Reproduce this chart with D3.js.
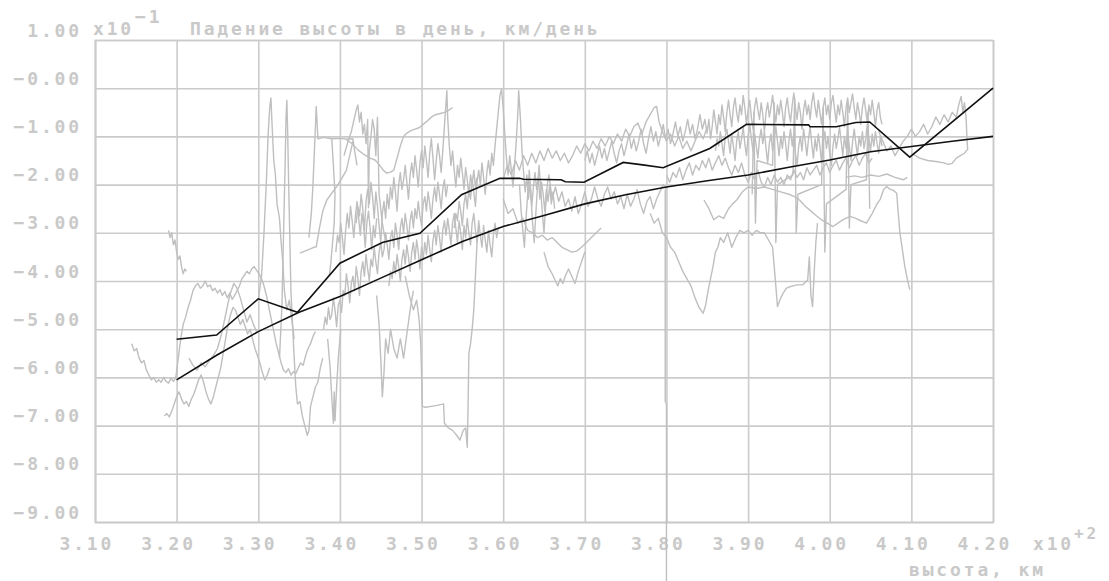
<!DOCTYPE html>
<html>
<head>
<meta charset="utf-8">
<script src="https://cdn.jsdelivr.net/npm/d3@7"></script>
<style>
  html, body { margin: 0; padding: 0; background: #ffffff; }
  svg { display: block; }
  text { font-family: "DejaVu Sans Mono", "Liberation Mono", monospace; font-size: 18px; font-weight: bold; fill: #c9c9c9; letter-spacing: 2.85px; }
</style>
</head>
<body>
<svg id="chart" width="1109" height="581"></svg>
<script>
// Axis ticks (altitude in units of 10^2 km, decay rate in units of 10^-1 km/day)
const xTicks = [3.10, 3.20, 3.30, 3.40, 3.50, 3.60, 3.70, 3.80, 3.90, 4.00, 4.10, 4.20];
const xTickLabels = ["3.10", "3.20", "3.30", "3.40", "3.50", "3.60", "3.70", "3.80", "3.90", "4.00", "4.10", "4.20"];
const yTicks = [1, 0, -1, -2, -3, -4, -5, -6, -7, -8, -9];
const yTickLabels = ["1.00", "−0.00", "−1.00", "−2.00", "−3.00", "−4.00", "−5.00", "−6.00", "−7.00", "−8.00", "−9.00"];

// Averaged decay rate per altitude bin
const meanAltitude = [3.20, 3.249, 3.30, 3.348, 3.40, 3.452, 3.498, 3.549, 3.596, 3.62, 3.625, 3.671, 3.676, 3.699, 3.747, 3.771, 3.796, 3.853, 3.898, 3.974, 3.976, 4.008, 4.032, 4.049, 4.098, 4.20];
const meanRate = [-5.21, -5.12, -4.37, -4.65, -3.63, -3.20, -3.01, -2.21, -1.87, -1.87, -1.89, -1.90, -1.94, -1.95, -1.54, -1.59, -1.65, -1.25, -0.75, -0.76, -0.80, -0.80, -0.71, -0.70, -1.43, 0.00];

// Smooth model curve
const modelAltitude = [3.20, 3.25, 3.30, 3.35, 3.40, 3.45, 3.50, 3.55, 3.60, 3.65, 3.70, 3.75, 3.80, 3.85, 3.90, 3.95, 4.00, 4.05, 4.10, 4.15, 4.20];
const modelRate = [-6.05, -5.53, -5.05, -4.65, -4.32, -3.94, -3.56, -3.18, -2.87, -2.64, -2.40, -2.21, -2.05, -1.92, -1.80, -1.64, -1.49, -1.32, -1.21, -1.10, -1.00];

// Individual observed tracks, flat lists of altitude, rate pairs
const track01 = [3.145,-5.30, 3.148,-5.45, 3.151,-5.40, 3.154,-5.60, 3.157,-5.70, 3.160,-5.65, 3.163,-5.85, 3.166,-5.95, 3.169,-6.05, 3.172,-6.00, 3.175,-6.10, 3.178,-6.05, 3.181,-6.10, 3.184,-6.00, 3.187,-6.08, 3.190,-6.12, 3.193,-6.02, 3.196,-6.08, 3.199,-6.00, 3.202,-5.60, 3.205,-5.20, 3.208,-4.90, 3.211,-4.75, 3.214,-4.55, 3.217,-4.40, 3.220,-4.20, 3.223,-4.10, 3.226,-4.05, 3.229,-4.15, 3.232,-4.10, 3.235,-4.00, 3.238,-4.12, 3.241,-4.08, 3.244,-4.20, 3.247,-4.15, 3.250,-4.25, 3.253,-4.18, 3.256,-4.30, 3.259,-4.22, 3.262,-4.35, 3.265,-4.25, 3.268,-4.38, 3.271,-4.30, 3.274,-4.20, 3.277,-4.10, 3.280,-3.95, 3.283,-3.88, 3.286,-3.80, 3.289,-3.85, 3.292,-3.75, 3.295,-3.70, 3.298,-3.78, 3.301,-3.85, 3.304,-3.95, 3.307,-4.10, 3.310,-4.30, 3.313,-4.55, 3.316,-4.80, 3.319,-5.05, 3.322,-5.30, 3.325,-5.50, 3.328,-5.70, 3.331,-5.85, 3.334,-5.90, 3.337,-5.82, 3.340,-5.95, 3.343,-5.88, 3.346,-5.92, 3.349,-5.80, 3.352,-5.70, 3.355,-5.75, 3.358,-5.55, 3.361,-5.40, 3.364,-5.30, 3.367,-5.15, 3.370,-5.05];
const track02 = [3.190,-2.95, 3.192,-3.10, 3.194,-3.00, 3.196,-3.25, 3.198,-3.15, 3.200,-3.40, 3.202,-3.55, 3.204,-3.48, 3.206,-3.70, 3.208,-3.85, 3.210,-3.75, 3.212,-3.80];
const track03 = [3.185,-6.80, 3.188,-6.75, 3.191,-6.82, 3.194,-6.70, 3.197,-6.55, 3.200,-6.40, 3.203,-6.30, 3.206,-6.45, 3.209,-6.55, 3.212,-6.50, 3.215,-6.60, 3.218,-6.45, 3.221,-6.35, 3.224,-6.20, 3.227,-6.05, 3.230,-5.95, 3.233,-6.10, 3.236,-6.30, 3.239,-6.45, 3.242,-6.55, 3.245,-6.40, 3.248,-6.20, 3.251,-6.00, 3.254,-5.80, 3.257,-5.50, 3.260,-5.20, 3.263,-4.90, 3.266,-4.70, 3.269,-4.55, 3.272,-4.60, 3.275,-4.75, 3.278,-4.90, 3.281,-4.80, 3.284,-4.95, 3.287,-5.10, 3.290,-5.00, 3.293,-5.20, 3.296,-5.40, 3.299,-5.55, 3.302,-5.70, 3.305,-5.90, 3.308,-6.05, 3.311,-5.95, 3.314,-5.80];
const track04 = [3.215,-5.60, 3.220,-5.75, 3.225,-5.85, 3.230,-5.70, 3.235,-5.78, 3.240,-5.65, 3.245,-5.55, 3.250,-5.40, 3.255,-5.10, 3.260,-4.70, 3.265,-4.30, 3.270,-4.05, 3.274,-4.15, 3.278,-4.35, 3.282,-4.60, 3.286,-4.85, 3.290,-4.70, 3.294,-4.90, 3.298,-5.05];
const track05 = [3.300,-4.40, 3.304,-3.90, 3.307,-3.00, 3.310,-1.90, 3.312,-1.00, 3.314,-0.40, 3.3155,-0.20, 3.317,-0.80, 3.319,-1.50, 3.321,-1.80, 3.323,-2.40, 3.326,-2.70, 3.328,-3.20, 3.330,-3.60, 3.332,-4.20, 3.335,-4.60, 3.338,-4.40, 3.341,-4.80, 3.344,-5.20];
const track06 = [3.326,-5.60, 3.329,-4.50, 3.331,-3.00, 3.333,-1.50, 3.334,-0.60, 3.335,-0.25, 3.336,-0.90, 3.337,-1.80, 3.338,-2.60, 3.339,-3.40, 3.340,-4.20, 3.342,-4.90, 3.344,-5.60, 3.346,-6.20, 3.348,-6.55, 3.351,-6.50, 3.354,-6.80, 3.357,-7.00, 3.360,-7.20, 3.362,-7.10, 3.364,-6.60, 3.367,-6.40, 3.370,-6.20, 3.373,-6.10, 3.376,-5.80, 3.379,-5.60];
const track07 = [3.385,-5.20, 3.388,-5.80, 3.390,-6.40, 3.392,-6.95, 3.393,-6.30, 3.394,-6.90, 3.396,-6.20, 3.398,-5.60, 3.401,-5.00];
const track08 = [3.362,-3.10, 3.365,-2.60, 3.367,-2.00, 3.369,-1.20, 3.371,-0.38, 3.372,-0.70, 3.373,-1.05, 3.380,-1.02, 3.390,-1.05, 3.400,-1.04, 3.410,-1.06, 3.416,-1.05, 3.418,-1.30, 3.421,-1.60];
const track09 = [3.405,-1.40, 3.410,-1.10, 3.414,-0.90, 3.418,-0.60, 3.420,-0.45, 3.422,-0.35, 3.424,-0.70, 3.426,-0.50, 3.428,-0.95, 3.430,-0.75, 3.432,-1.15, 3.434,-0.65, 3.435,-2.48, 3.436,-1.30, 3.438,-1.00, 3.440,-0.65, 3.442,-0.85, 3.444,-1.40, 3.446,-0.60, 3.448,-2.20, 3.450,-2.50, 3.452,-2.80, 3.455,-3.10];
const track10 = [3.408,-1.07, 3.415,-1.15, 3.422,-1.28, 3.430,-1.38, 3.437,-1.45, 3.443,-1.49, 3.448,-1.58, 3.453,-1.70, 3.457,-1.76, 3.462,-1.74, 3.466,-1.70, 3.470,-1.45, 3.474,-1.20, 3.478,-1.00, 3.482,-0.93, 3.487,-0.88, 3.492,-0.85, 3.497,-0.82, 3.502,-0.75, 3.507,-0.68, 3.512,-0.60, 3.517,-0.55, 3.522,-0.53, 3.528,-0.50, 3.533,-0.46, 3.538,-0.40];
const track11 = [3.351,-3.42, 3.357,-3.38, 3.363,-3.34, 3.368,-3.30, 3.371,-3.29, 3.375,-2.90, 3.379,-2.55, 3.384,-2.32, 3.390,-2.18, 3.396,-2.04, 3.402,-1.88, 3.408,-1.70, 3.412,-1.40, 3.416,-1.10];
const track12 = [3.380,-5.00, 3.382,-4.75, 3.384,-4.90, 3.386,-4.55, 3.388,-4.80, 3.390,-4.70, 3.392,-4.35, 3.394,-4.60, 3.396,-4.95, 3.398,-4.50, 3.400,-4.40, 3.402,-4.65, 3.404,-4.20, 3.406,-4.30, 3.408,-3.85, 3.410,-4.10, 3.412,-4.45, 3.414,-4.05, 3.416,-3.90, 3.418,-4.20, 3.420,-3.70, 3.422,-3.95, 3.424,-4.30, 3.426,-3.80, 3.428,-3.60, 3.430,-3.90, 3.432,-3.45, 3.434,-3.75, 3.436,-4.00, 3.438,-3.55, 3.440,-3.70, 3.442,-3.30, 3.444,-3.60, 3.446,-3.85, 3.448,-3.40, 3.450,-3.20, 3.452,-3.50, 3.454,-3.35, 3.456,-3.00, 3.458,-3.25, 3.460,-3.55, 3.462,-3.10, 3.464,-2.95, 3.466,-3.30, 3.468,-2.80, 3.470,-3.05, 3.472,-3.35, 3.474,-2.90, 3.476,-2.70, 3.478,-3.00, 3.480,-2.60, 3.482,-2.85, 3.484,-3.15, 3.486,-2.75, 3.488,-2.55, 3.490,-2.90, 3.492,-2.50, 3.494,-2.70, 3.496,-2.35, 3.498,-2.65, 3.500,-2.85, 3.502,-2.40, 3.504,-2.25, 3.506,-2.55, 3.508,-2.15, 3.510,-2.40, 3.512,-2.70, 3.514,-2.30, 3.516,-2.05, 3.518,-2.35, 3.520,-1.95, 3.522,-2.20, 3.524,-2.50, 3.526,-2.10, 3.528,-1.90, 3.530,-2.25, 3.532,-2.00];
const track13 = [3.420,-2.80, 3.422,-2.45, 3.424,-2.65, 3.426,-2.20, 3.428,-2.50, 3.430,-2.95, 3.432,-2.35, 3.434,-2.10, 3.436,-2.40, 3.438,-1.95, 3.440,-2.25, 3.442,-2.70, 3.444,-2.15, 3.446,-2.45, 3.448,-2.85, 3.450,-3.20, 3.452,-2.60, 3.454,-2.35, 3.456,-2.70, 3.458,-2.20, 3.460,-2.50, 3.462,-2.05, 3.464,-2.30, 3.466,-1.85, 3.468,-2.15, 3.470,-2.55, 3.472,-2.00, 3.474,-1.75, 3.476,-2.10, 3.478,-1.90, 3.480,-1.60, 3.482,-1.95, 3.484,-2.30, 3.486,-1.80, 3.488,-1.55, 3.490,-1.85, 3.492,-1.40, 3.494,-1.70, 3.496,-2.05, 3.498,-1.55, 3.500,-1.30, 3.502,-1.65, 3.504,-1.20, 3.506,-1.50, 3.508,-1.85, 3.510,-1.35, 3.512,-1.05, 3.514,-1.45, 3.516,-1.90, 3.518,-1.50, 3.520,-1.15, 3.522,-1.40, 3.524,-1.75, 3.526,-1.30, 3.528,-0.80, 3.530,-0.30, 3.531,-0.05, 3.532,-0.60, 3.534,-1.20, 3.536,-1.60, 3.538,-1.30, 3.540,-1.70, 3.542,-2.05, 3.544,-1.60, 3.546,-1.85, 3.548,-1.45, 3.550,-1.75, 3.552,-2.10, 3.554,-1.65, 3.556,-1.90, 3.558,-2.25, 3.560,-1.80, 3.562,-2.00, 3.564,-1.70, 3.566,-2.05, 3.568,-1.85];
const track14 = [3.540,-2.90, 3.542,-2.60, 3.544,-2.75, 3.546,-2.35, 3.548,-2.55, 3.550,-2.85, 3.552,-2.40, 3.554,-2.20, 3.556,-2.50, 3.558,-2.05, 3.560,-2.30, 3.562,-1.90, 3.564,-2.15, 3.566,-2.45, 3.568,-1.95, 3.570,-1.70, 3.572,-2.00, 3.574,-1.55, 3.576,-1.85, 3.578,-2.20, 3.580,-1.75, 3.582,-1.50, 3.584,-1.80, 3.586,-1.35, 3.588,-1.60, 3.590,-1.20, 3.592,-0.85, 3.594,-0.50, 3.596,-0.15, 3.598,-0.02, 3.600,-0.40, 3.602,-0.95, 3.604,-1.45, 3.606,-1.80, 3.608,-1.40, 3.610,-1.70, 3.612,-2.05, 3.614,-1.60, 3.616,-1.10, 3.618,-0.50, 3.619,-0.05, 3.621,-0.60, 3.623,-1.30, 3.625,-1.75, 3.627,-2.15, 3.629,-1.80, 3.631,-2.30, 3.633,-1.95, 3.635,-2.45, 3.637,-2.05, 3.639,-1.75, 3.641,-2.10, 3.643,-1.85, 3.645,-2.30, 3.647,-1.95, 3.649,-2.20, 3.651,-2.55, 3.653,-2.10, 3.655,-2.35, 3.657,-2.00, 3.659,-2.40, 3.661,-2.15, 3.663,-2.50];
const track15 = [3.460,-4.10, 3.462,-3.80, 3.464,-3.95, 3.466,-3.60, 3.468,-3.85, 3.470,-3.45, 3.472,-3.70, 3.474,-4.00, 3.476,-3.55, 3.478,-3.35, 3.480,-3.65, 3.482,-3.25, 3.484,-3.50, 3.486,-3.80, 3.488,-3.40, 3.490,-3.20, 3.492,-3.55, 3.494,-3.15, 3.496,-3.40, 3.498,-3.75, 3.500,-3.30, 3.502,-3.55, 3.504,-3.20, 3.506,-3.45, 3.508,-3.05, 3.510,-3.35, 3.512,-3.60, 3.514,-3.15, 3.516,-2.95, 3.518,-3.25, 3.520,-2.85, 3.522,-3.10, 3.524,-3.40, 3.526,-2.95, 3.528,-2.75, 3.530,-3.05, 3.532,-2.70, 3.534,-2.95, 3.536,-3.25, 3.538,-2.80, 3.540,-2.60, 3.542,-2.90, 3.544,-3.20, 3.546,-2.75, 3.548,-3.00, 3.550,-3.35, 3.552,-2.85, 3.554,-3.10, 3.556,-2.70, 3.558,-3.00, 3.560,-3.25, 3.562,-2.80, 3.564,-2.60, 3.566,-2.95, 3.568,-3.20, 3.570,-2.75, 3.572,-3.05, 3.574,-3.30, 3.576,-2.85, 3.578,-3.15, 3.580,-3.40, 3.582,-2.95, 3.584,-3.25, 3.586,-3.50, 3.588,-3.05, 3.590,-2.80, 3.592,-3.10, 3.594,-2.90];
const track16 = [3.480,-3.90, 3.485,-4.30, 3.490,-4.60, 3.494,-4.40, 3.497,-4.80, 3.499,-5.30, 3.500,-5.90, 3.501,-6.60, 3.505,-6.62, 3.512,-6.60, 3.519,-6.58, 3.527,-6.55, 3.528,-6.95, 3.533,-7.05, 3.538,-7.10, 3.543,-7.20, 3.547,-7.30, 3.551,-7.10, 3.554,-7.05, 3.556,-7.45, 3.557,-6.60, 3.558,-5.50, 3.560,-5.30, 3.562,-5.00, 3.564,-4.60, 3.566,-3.90, 3.568,-3.20, 3.570,-2.90];
const track17 = [3.445,-4.30, 3.448,-4.90, 3.450,-5.60, 3.452,-6.40, 3.454,-5.90, 3.456,-5.20, 3.459,-5.50, 3.462,-5.00, 3.466,-5.40, 3.470,-5.60, 3.474,-5.20, 3.478,-5.60, 3.482,-5.10, 3.486,-4.60, 3.490,-4.20];
const track18 = [3.600,-1.90, 3.605,-1.60, 3.610,-1.80, 3.615,-1.50, 3.620,-1.70, 3.625,-1.40, 3.630,-1.60, 3.635,-1.35, 3.640,-1.55, 3.645,-1.30, 3.650,-1.50, 3.655,-1.25, 3.660,-1.45, 3.665,-1.30, 3.670,-1.50, 3.675,-1.35, 3.680,-1.55, 3.685,-1.40, 3.690,-1.20, 3.695,-1.35, 3.700,-1.15, 3.705,-1.30, 3.710,-1.10, 3.715,-1.25, 3.720,-1.05, 3.725,-1.20, 3.730,-1.00, 3.735,-1.15, 3.740,-0.95, 3.745,-1.10, 3.750,-0.85, 3.755,-1.00, 3.760,-0.80, 3.765,-0.72, 3.770,-0.95, 3.775,-0.70, 3.780,-0.55, 3.785,-0.40, 3.788,-0.38, 3.791,-0.70, 3.795,-0.90, 3.800,-1.10, 3.805,-0.95, 3.810,-1.20, 3.815,-1.00, 3.820,-1.25, 3.825,-1.10, 3.830,-1.30, 3.835,-1.10, 3.840,-0.90, 3.845,-1.05, 3.850,-0.80];
const track19 = [3.600,-2.30, 3.606,-2.60, 3.612,-2.50, 3.618,-2.80, 3.624,-2.70, 3.630,-2.95, 3.636,-3.00, 3.642,-3.10, 3.648,-3.05, 3.654,-3.15, 3.660,-3.10, 3.666,-3.20, 3.672,-3.30, 3.678,-3.35, 3.684,-3.40, 3.690,-3.38, 3.696,-3.30, 3.702,-3.20, 3.708,-3.10, 3.714,-3.00, 3.720,-2.90];
const track20 = [3.650,-3.40, 3.655,-3.70, 3.660,-3.85, 3.664,-4.00, 3.667,-4.10, 3.670,-3.95, 3.673,-4.05, 3.676,-3.90, 3.680,-3.75, 3.684,-3.90, 3.688,-4.05, 3.692,-3.80, 3.696,-3.60, 3.700,-3.40];
const track21 = [3.620,-2.00, 3.622,-2.55, 3.624,-2.95, 3.626,-3.30, 3.628,-2.70, 3.630,-2.20, 3.632,-1.70, 3.634,-2.25, 3.636,-2.80, 3.638,-3.20, 3.640,-2.60, 3.642,-2.05, 3.644,-1.60, 3.646,-2.10, 3.648,-2.60, 3.650,-3.00, 3.652,-2.45, 3.654,-2.00, 3.656,-1.80, 3.660,-2.30, 3.664,-2.05, 3.668,-2.35, 3.672,-2.15, 3.676,-2.45, 3.680,-2.30, 3.684,-2.55, 3.688,-2.25, 3.692,-2.60, 3.696,-2.40, 3.700,-2.15, 3.704,-2.45, 3.708,-2.30, 3.712,-2.05, 3.716,-2.30, 3.720,-2.45, 3.724,-2.20, 3.728,-2.05, 3.732,-2.30, 3.736,-2.15, 3.740,-2.40, 3.744,-2.25, 3.748,-2.50, 3.752,-2.20, 3.756,-2.45, 3.760,-2.30, 3.764,-2.10, 3.768,-2.40, 3.772,-2.60, 3.776,-2.35, 3.780,-2.25, 3.784,-2.50, 3.788,-2.30, 3.792,-2.15, 3.796,-2.00, 3.800,-2.10];
const track22 = [3.7985,-2.10, 3.7985,-6.50, 3.800,-6.55, 3.800,-10.25];
const track23 = [3.780,-2.60, 3.785,-2.80, 3.790,-2.70, 3.795,-3.00, 3.800,-3.10, 3.805,-3.30, 3.810,-3.40, 3.815,-3.60, 3.820,-3.80, 3.825,-3.95, 3.830,-4.10, 3.835,-4.35, 3.840,-4.55, 3.845,-4.67, 3.848,-4.50, 3.851,-4.20, 3.854,-3.95, 3.857,-3.70, 3.860,-3.40, 3.863,-3.30, 3.866,-3.10, 3.870,-3.20, 3.875,-3.00, 3.880,-3.30, 3.885,-3.10, 3.890,-2.95, 3.895,-3.00, 3.900,-2.95, 3.905,-3.05, 3.910,-2.95, 3.915,-3.00, 3.920,-3.00, 3.925,-3.15, 3.930,-3.30, 3.933,-3.90, 3.936,-4.53, 3.940,-4.35, 3.943,-4.25, 3.947,-4.15, 3.951,-4.12, 3.955,-4.10, 3.960,-4.08, 3.967,-4.08, 3.973,-3.98, 3.975,-3.50, 3.977,-4.30, 3.979,-4.53, 3.981,-3.80, 3.983,-3.20, 3.985,-2.80];
const track24 = [3.846,-2.32, 3.852,-2.50, 3.858,-2.73, 3.864,-2.65, 3.870,-2.70, 3.876,-2.50, 3.881,-2.40, 3.886,-2.32, 3.893,-2.15, 3.900,-2.05, 3.910,-2.08, 3.920,-2.05, 3.930,-2.10, 3.940,-2.15, 3.950,-2.20, 3.957,-2.25, 3.963,-2.32, 3.970,-2.45, 3.977,-2.55, 3.984,-2.65, 3.990,-2.73, 3.997,-2.80, 4.004,-2.87, 4.010,-2.80, 4.017,-2.72, 4.025,-2.66, 4.032,-2.70, 4.038,-2.75, 4.045,-2.80, 4.052,-2.60, 4.058,-2.40, 4.062,-2.30, 4.066,-2.10, 4.070,-2.04, 4.074,-2.10, 4.078,-2.12, 4.082,-2.18, 4.084,-2.60, 4.086,-3.00, 4.089,-3.35, 4.092,-3.70, 4.095,-3.95, 4.098,-4.18];
const track25 = [4.020,-1.85, 4.030,-1.82, 4.040,-1.85, 4.050,-1.80, 4.060,-1.83, 4.070,-1.78, 4.080,-1.85, 4.090,-1.90, 4.095,-1.85];
const track26 = [3.800,-1.80, 3.804,-1.95, 3.808,-1.75, 3.812,-1.85, 3.816,-1.65, 3.820,-1.90, 3.824,-1.70, 3.828,-1.55, 3.832,-1.80, 3.836,-1.60, 3.840,-1.70, 3.844,-1.50, 3.848,-1.65, 3.852,-1.45, 3.856,-1.70, 3.860,-1.55, 3.864,-1.40, 3.868,-1.60, 3.872,-1.45, 3.876,-1.65, 3.880,-1.80, 3.884,-1.60, 3.888,-1.75, 3.892,-1.55, 3.896,-1.80, 3.900,-1.95, 3.904,-1.75, 3.908,-1.90, 3.912,-1.70, 3.916,-1.95, 3.920,-2.05, 3.924,-1.85, 3.928,-2.00, 3.932,-1.80, 3.936,-1.95, 3.940,-1.85, 3.944,-2.00, 3.948,-1.80, 3.952,-1.90, 3.956,-1.70, 3.960,-1.85, 3.964,-1.75, 3.968,-1.90, 3.972,-1.65, 3.976,-1.80, 3.980,-1.70, 3.984,-1.60, 3.988,-1.80, 3.992,-1.65, 3.996,-1.55, 4.000,-1.75, 4.004,-1.60, 4.008,-1.50, 4.012,-1.70, 4.016,-1.55, 4.020,-1.45, 4.024,-1.65, 4.028,-1.50, 4.032,-1.40, 4.036,-1.60, 4.040,-1.45, 4.044,-1.35, 4.048,-1.55, 4.052,-1.45];
const track27 = [3.850,-0.90, 3.852,-0.65, 3.854,-1.05, 3.856,-0.80, 3.858,-0.45, 3.860,-0.70, 3.862,-0.95, 3.864,-0.55, 3.866,-0.75, 3.868,-0.35, 3.870,-0.60, 3.872,-0.90, 3.874,-0.50, 3.876,-0.25, 3.878,-0.55, 3.880,-0.80, 3.882,-0.40, 3.884,-0.20, 3.886,-0.50, 3.888,-0.70, 3.890,-0.35, 3.892,-0.55, 3.894,-0.15, 3.896,-0.40, 3.898,-0.75, 3.900,-0.45, 3.902,-0.25, 3.904,-0.60, 3.906,-0.85, 3.908,-0.40, 3.910,-0.20, 3.912,-0.45, 3.914,-0.65, 3.916,-0.30, 3.918,-0.55, 3.920,-0.90, 3.922,-0.50, 3.924,-0.30, 3.926,-0.60, 3.928,-0.40, 3.930,-0.15, 3.932,-0.45, 3.934,-0.70, 3.936,-0.35, 3.938,-0.55, 3.940,-0.25, 3.942,-0.50, 3.944,-0.80, 3.946,-0.40, 3.948,-0.20, 3.950,-0.50, 3.952,-0.70, 3.954,-0.35, 3.956,-0.10, 3.958,-0.40, 3.960,-0.65, 3.962,-0.30, 3.964,-0.50, 3.966,-0.85, 3.968,-0.45, 3.970,-0.25, 3.972,-0.55, 3.974,-0.35, 3.976,-0.65, 3.978,-0.30, 3.980,-0.10, 3.982,-0.40, 3.984,-0.60, 3.986,-0.25, 3.988,-0.50, 3.990,-0.75, 3.992,-0.40, 3.994,-0.20, 3.996,-0.55, 3.998,-0.35, 4.000,-0.65, 4.002,-0.30, 4.004,-0.15, 4.006,-0.45, 4.008,-0.70, 4.010,-0.35, 4.012,-0.55, 4.014,-0.25, 4.016,-0.50, 4.018,-0.80, 4.020,-0.40, 4.022,-0.20, 4.024,-0.50, 4.026,-0.30, 4.028,-0.12, 4.030,-0.40, 4.032,-0.65, 4.034,-0.30, 4.036,-0.50, 4.038,-0.75, 4.040,-0.40, 4.042,-0.20, 4.044,-0.45, 4.046,-0.70, 4.048,-0.35, 4.050,-0.55, 4.052,-0.25, 4.054,-0.50, 4.056,-0.80, 4.058,-0.45, 4.060,-0.30, 4.062,-0.60, 4.064,-0.75];
const track28 = [3.860,-1.30, 3.862,-1.05, 3.864,-1.20, 3.866,-0.90, 3.868,-1.15, 3.870,-1.40, 3.872,-1.00, 3.874,-0.85, 3.876,-1.10, 3.878,-1.35, 3.880,-0.95, 3.882,-1.20, 3.884,-1.50, 3.886,-1.10, 3.888,-0.90, 3.890,-1.25, 3.892,-1.05, 3.894,-0.80, 3.896,-1.15, 3.898,-1.40, 3.900,-1.00, 3.902,-0.75, 3.904,-1.05, 3.906,-1.30, 3.908,-0.95, 3.910,-1.20, 3.912,-1.45, 3.914,-1.05, 3.916,-0.85, 3.918,-1.15, 3.920,-0.90, 3.922,-1.25, 3.924,-1.55, 3.926,-1.15, 3.928,-0.95, 3.930,-1.30, 3.932,-1.05, 3.934,-0.80, 3.936,-1.10, 3.938,-1.40, 3.940,-1.00, 3.942,-1.25, 3.944,-0.90, 3.946,-1.15, 3.948,-1.50, 3.950,-1.10, 3.952,-0.85, 3.954,-1.20, 3.956,-0.95, 3.958,-1.35, 3.960,-1.60, 3.962,-1.20, 3.964,-1.00, 3.966,-1.30, 3.968,-0.85, 3.970,-1.10, 3.972,-1.40, 3.974,-1.05, 3.976,-0.80, 3.978,-1.15, 3.980,-1.45, 3.982,-1.05, 3.984,-1.30, 3.986,-0.95, 3.988,-1.20, 3.990,-1.55, 3.992,-1.15, 3.994,-0.90, 3.996,-1.25, 3.998,-1.00, 4.000,-1.35, 4.002,-1.60, 4.004,-1.20, 4.006,-0.95, 4.008,-1.25, 4.010,-1.05, 4.012,-0.80, 4.014,-1.10, 4.016,-1.40, 4.018,-1.00, 4.020,-1.25, 4.022,-0.90, 4.024,-1.20, 4.026,-1.50, 4.028,-1.10, 4.030,-0.85, 4.032,-1.15, 4.034,-1.40, 4.036,-1.00, 4.038,-1.20, 4.040,-0.90, 4.042,-1.25, 4.044,-1.05, 4.046,-0.75, 4.048,-1.05, 4.050,-1.30, 4.052,-0.95, 4.054,-1.20, 4.056,-0.90, 4.058,-1.15, 4.060,-1.35, 4.062,-1.00, 4.064,-1.20];
const track29 = [3.905,-2.20, 3.907,-0.50, 3.909,-2.80, 3.911,-1.50, 3.930,-1.60, 3.932,-0.30, 3.934,-3.20, 3.936,-2.00, 3.955,-1.80, 3.957,-0.20, 3.959,-3.00, 3.961,-2.20, 3.990,-2.00, 3.992,-0.40, 3.994,-3.40, 3.996,-2.40, 4.020,-2.10, 4.022,-0.30, 4.024,-2.90, 4.026,-2.00, 4.045,-1.90, 4.047,-0.50, 4.049,-2.50];
const track30 = [4.060,-0.90, 4.065,-1.10, 4.070,-1.30, 4.075,-1.20, 4.080,-1.40, 4.085,-1.25, 4.090,-1.10, 4.095,-1.00, 4.100,-0.85, 4.105,-1.00, 4.110,-0.90, 4.115,-0.75, 4.120,-0.95, 4.125,-0.80, 4.130,-0.60, 4.135,-0.75, 4.140,-0.55, 4.145,-0.70, 4.150,-0.50, 4.155,-0.60, 4.158,-0.35, 4.161,-0.17, 4.163,-0.50, 4.165,-0.30, 4.167,-0.60, 4.168,-1.00, 4.169,-1.29];
const track31 = [4.100,-1.35, 4.110,-1.45, 4.120,-1.50, 4.130,-1.52, 4.140,-1.55, 4.145,-1.58, 4.150,-1.56, 4.155,-1.45, 4.160,-1.40, 4.165,-1.35, 4.168,-1.28];
const track32 = [3.390,-1.05, 3.392,-1.60, 3.394,-2.20, 3.393,-2.80, 3.391,-3.20, 3.389,-3.60, 3.387,-3.90];
const track33 = [3.395,-3.40, 3.397,-3.05, 3.399,-3.20, 3.401,-2.80, 3.403,-3.10, 3.405,-3.45, 3.407,-2.95, 3.409,-2.60, 3.411,-2.90, 3.413,-2.45, 3.415,-2.75, 3.417,-3.10, 3.419,-2.65, 3.421,-2.35, 3.423,-2.70, 3.425,-3.05, 3.427,-2.60, 3.429,-2.85, 3.431,-3.30, 3.433,-2.80, 3.435,-2.55, 3.437,-2.90, 3.439,-3.35, 3.441,-2.85, 3.443,-3.10, 3.445,-2.70];
const track34 = [3.700,-1.50, 3.703,-1.30, 3.706,-1.55, 3.709,-1.35, 3.712,-1.60, 3.715,-1.40, 3.718,-1.20, 3.721,-1.45, 3.724,-1.25, 3.727,-1.50, 3.730,-1.30, 3.733,-1.10, 3.736,-1.35, 3.739,-1.55, 3.742,-1.30, 3.745,-1.15, 3.748,-1.40, 3.751,-1.20, 3.754,-0.95, 3.757,-1.25, 3.760,-1.05, 3.763,-1.30, 3.766,-1.10, 3.769,-0.85, 3.772,-1.15, 3.775,-1.35, 3.778,-1.05, 3.781,-0.80, 3.784,-1.10, 3.787,-0.90, 3.790,-1.20, 3.793,-1.00, 3.796,-0.75, 3.799,-1.05, 3.802,-0.85, 3.805,-1.15, 3.808,-0.95, 3.811,-0.70, 3.814,-1.00, 3.817,-0.80, 3.820,-1.10, 3.823,-0.90, 3.826,-0.65, 3.829,-0.95, 3.832,-0.75, 3.835,-1.05, 3.838,-0.85, 3.841,-0.55, 3.844,-0.85, 3.847,-0.65, 3.850,-0.95];

const tracks = [track01, track02, track03, track04, track05, track06, track07, track08, track09, track10,
  track11, track12, track13, track14, track15, track16, track17, track18, track19, track20,
  track21, track22, track23, track24, track25, track26, track27, track28, track29, track30,
  track31, track32, track33, track34];

// Layout
const plot = { left: 95, right: 993, top: 40, bottom: 522 };
const svg = d3.select("#chart");

const x = d3.scaleLinear().domain([3.10, 4.20]).range([plot.left, plot.right]);
const y = d3.scaleLinear().domain([-9, 1]).range([plot.bottom, plot.top]);

const gridColor = "#cbcbcb";

// Bottom axis: vertical grid lines with labels
const xAxis = svg.append("g")
  .attr("transform", `translate(0,${plot.bottom})`)
  .call(d3.axisBottom(x)
    .tickValues(xTicks)
    .tickSize(-(plot.bottom - plot.top))
    .tickFormat((d, i) => xTickLabels[i]));
xAxis.select(".domain").attr("stroke", gridColor).attr("stroke-width", 1.6);
xAxis.selectAll(".tick line").attr("stroke", gridColor).attr("stroke-width", 1.6);
xAxis.selectAll(".tick text")
  .attr("x", -36).attr("y", 28).attr("dy", null)
  .attr("text-anchor", "start")
  .attr("fill", null).attr("font-family", null).attr("font-size", null);

// Left axis: horizontal grid lines with labels
const yAxis = svg.append("g")
  .attr("transform", `translate(${plot.left},0)`)
  .call(d3.axisLeft(y)
    .tickValues(yTicks)
    .tickSize(-(plot.right - plot.left))
    .tickFormat((d, i) => yTickLabels[i]));
yAxis.select(".domain").attr("stroke", gridColor).attr("stroke-width", 1.6);
yAxis.selectAll(".tick line").attr("stroke", gridColor).attr("stroke-width", 1.6);
yAxis.selectAll(".tick text")
  .attr("x", -13).attr("y", -4).attr("dy", null)
  .attr("text-anchor", "end")
  .attr("fill", null).attr("font-family", null).attr("font-size", null);

// Observed tracks
const toPairs = flat => d3.range(0, flat.length, 2).map(i => [flat[i], flat[i + 1]]);
const line = d3.line().x(d => x(d[0])).y(d => y(d[1]));

svg.append("g")
  .attr("fill", "none")
  .attr("stroke", "#bfbfbf")
  .attr("stroke-width", 1.4)
  .attr("stroke-linejoin", "round")
  .selectAll("path")
  .data(tracks.map(toPairs))
  .join("path")
  .attr("d", line);

// Averaged rate and model curve
svg.append("path")
  .datum(d3.zip(modelAltitude, modelRate))
  .attr("fill", "none").attr("stroke", "#111").attr("stroke-width", 1.6)
  .attr("d", line);
svg.append("path")
  .datum(d3.zip(meanAltitude, meanRate))
  .attr("fill", "none").attr("stroke", "#111").attr("stroke-width", 1.6)
  .attr("d", line);

// Scale multipliers, title and axis name
svg.append("text").attr("x", 93).attr("y", 35).text("x10");
svg.append("text").attr("x", 135).attr("y", 23).text("−1");
svg.append("text").attr("x", 190).attr("y", 35).text("Падение высоты в день, км/день");
svg.append("text").attr("x", 1033).attr("y", 550).text("x10");
svg.append("text").attr("x", 1074).attr("y", 539).style("font-size", "16px").text("+2");
svg.append("text").attr("x", 909).attr("y", 576).text("высота, км");
</script>
</body>
</html>
